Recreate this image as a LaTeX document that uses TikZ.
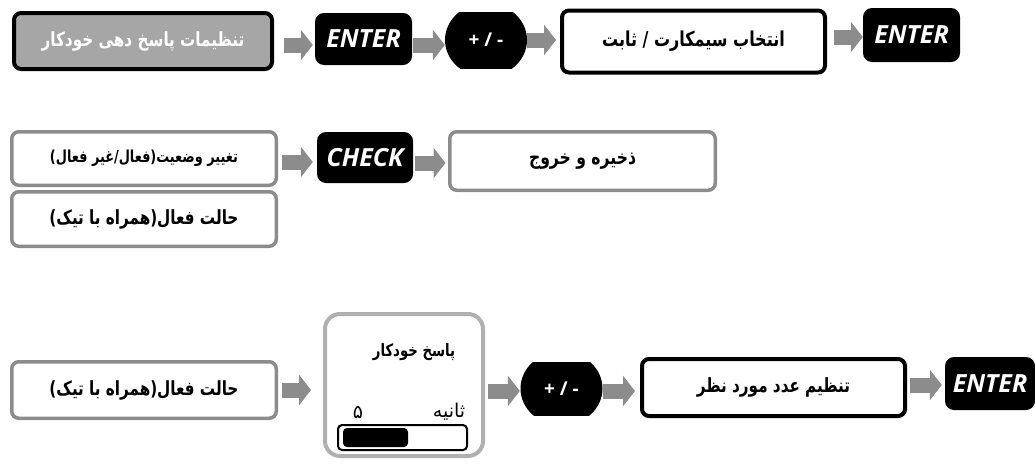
\documentclass[tikz,border=0pt]{standalone}
\usepackage{fontspec}
\usetikzlibrary{arrows.meta,shapes.geometric}
\TeXXeTstate=1
\newfontfamily\fa[Script=Arabic,FakeStretch=0.78]{DejaVu Sans}
\newfontfamily\faplain[Script=Arabic]{DejaVu Sans}
\newfontfamily\keyf{Open Sans}
\definecolor{arrowgray}{HTML}{8C8C8C}
\definecolor{boxgray}{HTML}{A6A6A6}
\definecolor{bordergray}{HTML}{8C8C8C}
\definecolor{lightborder}{HTML}{B0B0B0}
\begin{document}
\begin{tikzpicture}[x=1pt,y=-1pt,
 graybox/.style={draw=bordergray, line width=3.5pt, rounded corners=7pt, fill=white, inner sep=0pt},
 blackbox/.style={draw=black, line width=4pt, rounded corners=7pt, fill=white, inner sep=0pt},
 keybox/.style={fill=black, rounded corners=9pt, text=white, inner sep=0pt, font=\keyf\bfseries\itshape\fontsize{25}{30}\selectfont},
 pmnode/.style={rectangle, inner sep=0pt, minimum width=82pt, minimum height=56pt, text=white,
   font=\keyf\bfseries\fontsize{19}{22}\selectfont,
   path picture={\fill[black] (path picture bounding box.center) ellipse [x radius=41pt, y radius=37pt];}},
 fat/.style={draw=arrowgray, line width=15pt, -{Triangle[width=30pt,length=12pt]}},
 fabig/.style={font=\fa\bfseries\fontsize{19.5}{22}\selectfont},
 fasmall/.style={font=\fa\bfseries\fontsize{16.5}{20}\selectfont},
 faslider/.style={font=\faplain\fontsize{19}{22}\selectfont, inner sep=0pt},
]
\useasboundingbox (0,0) rectangle (1035,466);

% Row 1
\node[blackbox, fabig, fill=boxgray, minimum width=258pt, minimum height=56pt, text=white] (b1) at (143,41) {\beginR تنظیمات پاسخ دهی خودکار\endR};
\node[keybox, minimum width=97pt, minimum height=52pt] (e1) at (363.5,39) {ENTER};
\node[pmnode] (pm1) at (486,40) {+ / -};
\node[blackbox, font=\fa\bfseries\fontsize{20.5}{22}\selectfont, minimum width=263pt, minimum height=62pt] (b2) at (693.5,41.5) {\beginR انتخاب سیمکارت / ثابت\endR};
\node[keybox, minimum width=97pt, minimum height=54pt] (e2) at (911.5,35) {ENTER};

\draw[fat, shorten <=10pt, shorten >=2pt] (b1.east |- 0,45) -- (e1.west |- 0,45);
\draw[fat, shorten <=1pt] (e1.east |- 0,45) -- (pm1.west |- 0,45);
\draw[fat, shorten >=4pt] (pm1.east |- 0,40) -- (b2.west |- 0,40);
\draw[fat, shorten <=7pt] (b2.east |- 0,37) -- (e2.west |- 0,37);

% Row 2
\node[graybox, fasmall, minimum width=264.5pt, minimum height=53.5pt] (s1) at (144,158.5) {\beginR تغییر وضعیت(فعال/غیر فعال)\endR};
\node[graybox, fabig, minimum width=264.5pt, minimum height=54.5pt] (s2) at (144,219) {\beginR حالت فعال(همراه با تیک)\endR};
\node[keybox, minimum width=96pt, minimum height=51pt] (ch) at (365,157.5) {CHECK};
\node[graybox, font=\fa\bfseries\fontsize{20}{22}\selectfont, minimum width=265.5pt, minimum height=58.5pt] (sv) at (582.5,161) {\beginR ذخیره و خروج\endR};

\draw[fat, shorten <=3.5pt, shorten >=4pt] (s1.east |- 0,162) -- (ch.west |- 0,162);
\draw[fat, shorten <=2pt, shorten >=2.5pt] (ch.east |- 0,163) -- (sv.west |- 0,163);

% Row 3
\node[graybox, fabig, minimum width=264.5pt, minimum height=56.5pt] (r1) at (144,390) {\beginR حالت فعال(همراه با تیک)\endR};
\node[draw=lightborder, line width=4pt, rounded corners=15pt, fill=white, minimum width=158pt, minimum height=142pt, inner sep=0pt] (w) at (404,385) {};
\node[font=\fa\bfseries\fontsize{17}{20}\selectfont] (wt) at (414,352) {\beginR پاسخ خودکار\endR};
\node[faslider] (wn) at (358,412) {\beginR ۵\endR};
\node[faslider] (ws) at (449,412) {\beginR ثانیه\endR};
\draw[line width=2pt, rounded corners=4pt] (338,425) rectangle (467,450);
\fill[rounded corners=4pt] (343,428) rectangle (408,447);
\node[pmnode, minimum width=83pt, minimum height=53pt] (pm2) at (561.5,388.5) {+ / -};
\node[blackbox, fabig, minimum width=263pt, minimum height=57pt] (t) at (773.5,387.5) {\beginR تنظیم عدد مورد نظر\endR};
\node[keybox, minimum width=90pt, minimum height=53pt] (e3) at (990,383.5) {ENTER};

\draw[fat, shorten <=3.5pt, shorten >=12pt] (r1.east |- 0,390) -- (w.west |- 0,390);
\draw[fat, shorten <=3pt] (w.east |- 0,391) -- (pm2.west |- 0,391);
\draw[fat, shorten >=5pt] (pm2.east |- 0,391) -- (t.west |- 0,391);
\draw[fat, shorten <=3pt, shorten >=3pt] (t.east |- 0,385) -- (e3.west |- 0,385);
\end{tikzpicture}
\end{document}
